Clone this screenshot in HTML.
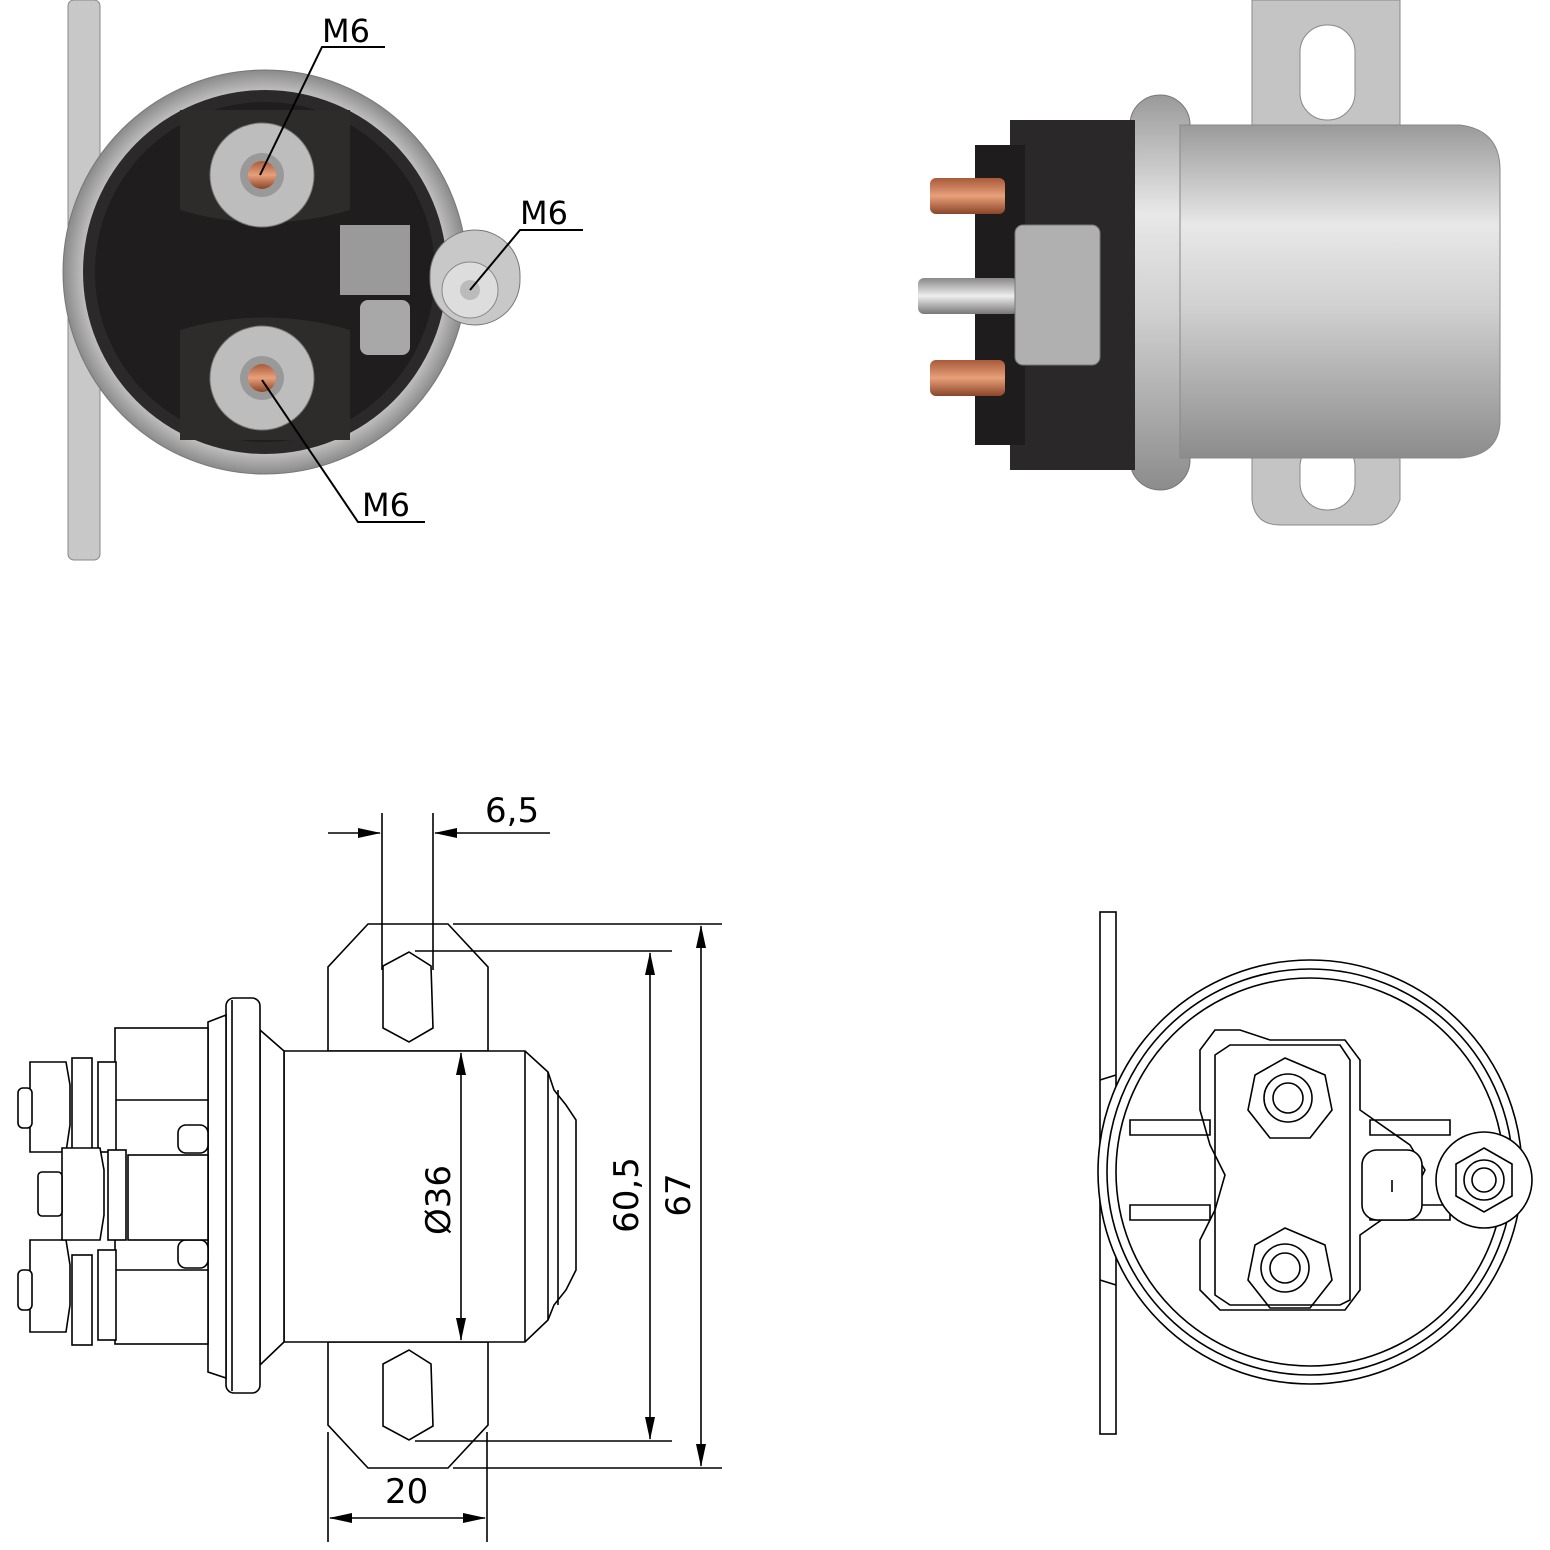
<!DOCTYPE html>
<html><head><meta charset="utf-8"><style>
html,body{margin:0;padding:0;background:#fff;}
svg{display:block;}
text{font-family:"DejaVu Sans","Liberation Sans",sans-serif;}
</style></head><body>
<svg width="1550" height="1550" viewBox="0 0 1550 1550" xmlns="http://www.w3.org/2000/svg">
<defs>
<radialGradient id="ring" cx="50%" cy="50%" r="50%">
<stop offset="85%" stop-color="#d8d8d8"/><stop offset="100%" stop-color="#8a8a8a"/></radialGradient>
<linearGradient id="can" x1="0" y1="0" x2="0" y2="1">
<stop offset="0" stop-color="#9a9a9a"/><stop offset="0.3" stop-color="#e8e8e8"/><stop offset="0.55" stop-color="#d0d0d0"/><stop offset="1" stop-color="#8c8c8c"/></linearGradient>
<linearGradient id="cu" x1="0" y1="0" x2="0" y2="1">
<stop offset="0" stop-color="#a85a3a"/><stop offset="0.5" stop-color="#e8a07a"/><stop offset="1" stop-color="#8a4428"/></linearGradient>
<linearGradient id="ag" x1="0" y1="0" x2="0" y2="1">
<stop offset="0" stop-color="#888"/><stop offset="0.5" stop-color="#eee"/><stop offset="1" stop-color="#777"/></linearGradient>
</defs>

<!-- TOP LEFT photo -->
<rect x="68" y="0" width="32" height="560" rx="6" fill="#c8c8c8" stroke="#888"/>
<circle cx="265" cy="272" r="202" fill="url(#ring)" stroke="#777"/>
<circle cx="265" cy="272" r="182" fill="#2b2929"/>
<circle cx="265" cy="272" r="170" fill="#1f1d1d"/>
<path d="M180 110 L350 110 L350 210 Q265 235 180 210 Z" fill="#2e2b2b"/>
<path d="M180 330 Q265 305 350 330 L350 440 L180 440 Z" fill="#2e2b2b"/>
<circle cx="262" cy="175" r="52" fill="#bdbdbd" stroke="#777"/>
<circle cx="262" cy="175" r="22" fill="#999"/>
<circle cx="262" cy="175" r="14" fill="url(#cu)"/>
<circle cx="262" cy="378" r="52" fill="#bdbdbd" stroke="#777"/>
<circle cx="262" cy="378" r="22" fill="#999"/>
<circle cx="262" cy="378" r="14" fill="url(#cu)"/>
<rect x="340" y="225" width="70" height="70" fill="#9a9a9a"/>
<rect x="360" y="300" width="50" height="55" rx="8" fill="#a8a8a8"/>
<rect x="430" y="230" width="90" height="95" rx="45" fill="#c8c8c8" stroke="#777"/>
<circle cx="470" cy="290" r="28" fill="#ddd" stroke="#888"/>
<circle cx="470" cy="290" r="10" fill="#bbb"/>
<g stroke="#000" stroke-width="2" fill="none">
<polyline points="260,175 322,47 385,47"/>
<polyline points="470,290 520,230 583,230"/>
<polyline points="262,380 358,522 425,522"/>
</g>
<g font-size="32" fill="#000">
<text x="322" y="42">M6</text>
<text x="520" y="224">M6</text>
<text x="362" y="516">M6</text>
</g>

<!-- TOP RIGHT photo -->
<path d="M1252 0 L1400 0 L1400 140 L1252 140 Z" fill="#c4c4c4" stroke="#888"/>
<rect x="1300" y="25" width="55" height="95" rx="27" fill="#fff" stroke="#888"/>
<path d="M1252 430 L1400 430 L1400 500 Q1390 525 1370 525 L1280 525 Q1255 525 1252 500 Z" fill="#c4c4c4" stroke="#888"/>
<rect x="1300" y="440" width="55" height="70" rx="27" fill="#fff" stroke="#888"/>
<rect x="1130" y="95" width="60" height="395" rx="30" fill="url(#can)" stroke="#777"/>
<path d="M1180 125 L1460 125 Q1500 130 1500 170 L1500 420 Q1500 455 1460 458 L1180 458 Z" fill="url(#can)" stroke="#888"/>
<rect x="1010" y="120" width="125" height="350" fill="#2a2828"/>
<rect x="975" y="145" width="50" height="300" fill="#1e1c1c"/>
<rect x="930" y="178" width="75" height="36" rx="6" fill="url(#cu)"/>
<rect x="930" y="360" width="75" height="36" rx="6" fill="url(#cu)"/>
<rect x="918" y="278" width="100" height="36" rx="6" fill="url(#ag)"/>
<rect x="1015" y="225" width="85" height="140" rx="8" fill="#b0b0b0" stroke="#777"/>

<!-- BOTTOM LEFT drawing -->
<g stroke="#000" stroke-width="1.6" fill="#fff">
<path d="M368 924 L448 924 L488 967 L488 1051 L328 1051 L328 967 Z"/>
<path d="M328 1342 L488 1342 L488 1425 L448 1468 L368 1468 L328 1425 Z"/>
<path d="M409 952 L431 966 L433 1028 L409 1042 L383 1028 L383 966 Z"/>
<path d="M409 1350 L431 1364 L433 1426 L409 1440 L383 1426 L383 1364 Z"/>
<path d="M284 1051 L525 1051 L548 1072 L554 1090 L566 1105 L576 1120 L576 1270 L566 1290 L554 1305 L548 1320 L525 1342 L284 1342 Z"/>
<line x1="525" y1="1051" x2="525" y2="1342"/>
<line x1="548" y1="1072" x2="548" y2="1320"/>
<line x1="558" y1="1090" x2="558" y2="1305"/>
<path d="M260 1030 L284 1051 L284 1342 L260 1365 Z"/>
<rect x="226" y="998" width="34" height="395" rx="8"/>
<line x1="232" y1="1000" x2="232" y2="1391"/>
<path d="M208 1022 L226 1015 L226 1378 L208 1372 Z"/>
<rect x="115" y="1028" width="93" height="316"/>
<line x1="115" y1="1100" x2="208" y2="1100"/>
<line x1="115" y1="1270" x2="208" y2="1270"/>
<rect x="178" y="1125" width="30" height="28" rx="8"/>
<rect x="178" y="1240" width="30" height="28" rx="8"/>
<rect x="128" y="1155" width="80" height="85"/>
<rect x="98" y="1062" width="18" height="90"/>
<rect x="98" y="1250" width="18" height="90"/>
<rect x="72" y="1058" width="20" height="92"/>
<rect x="72" y="1255" width="20" height="90"/>
<path d="M30 1062 L66 1062 L70 1085 L70 1125 L66 1152 L30 1152 Z"/>
<path d="M30 1240 L66 1240 L70 1265 L70 1305 L66 1332 L30 1332 Z"/>
<rect x="18" y="1088" width="14" height="40" rx="5"/>
<rect x="18" y="1270" width="14" height="40" rx="5"/>
<path d="M62 1148 L100 1148 L104 1170 L104 1215 L100 1240 L62 1240 Z"/>
<rect x="38" y="1172" width="24" height="44" rx="4"/>
<rect x="108" y="1150" width="18" height="90"/>
</g>
<g stroke="#000" stroke-width="1.6" fill="none">
<line x1="382" y1="813" x2="382" y2="970"/>
<line x1="433" y1="813" x2="433" y2="970"/>
<line x1="328" y1="833" x2="380" y2="833"/>
<line x1="550" y1="833" x2="435" y2="833"/>
<line x1="453" y1="924" x2="722" y2="924"/>
<line x1="415" y1="951" x2="672" y2="951"/>
<line x1="415" y1="1441" x2="672" y2="1441"/>
<line x1="453" y1="1468" x2="722" y2="1468"/>
<line x1="650" y1="953" x2="650" y2="1439"/>
<line x1="701" y1="926" x2="701" y2="1466"/>
<line x1="461" y1="1053" x2="461" y2="1340"/>
<line x1="328" y1="1432" x2="328" y2="1542"/>
<line x1="487" y1="1432" x2="487" y2="1542"/>
<line x1="330" y1="1518" x2="485" y2="1518"/>
</g>
<g fill="#000">
<polygon points="381,833 358,828 358,838"/>
<polygon points="434,833 457,828 457,838"/>
<polygon points="650,952 645,975 655,975"/>
<polygon points="650,1440 645,1417 655,1417"/>
<polygon points="701,925 696,948 706,948"/>
<polygon points="701,1467 696,1444 706,1444"/>
<polygon points="461,1052 456,1075 466,1075"/>
<polygon points="461,1341 456,1318 466,1318"/>
<polygon points="329,1518 352,1513 352,1523"/>
<polygon points="486,1518 463,1513 463,1523"/>
</g>
<g font-size="34" fill="#000">
<text x="485" y="822">6,5</text>
<text x="385" y="1503">20</text>
<text transform="translate(450 1200) rotate(-90)" text-anchor="middle">Ø36</text>
<text transform="translate(638 1195) rotate(-90)" text-anchor="middle">60,5</text>
<text transform="translate(690 1195) rotate(-90)" text-anchor="middle">67</text>
</g>

<!-- BOTTOM RIGHT drawing -->
<g stroke="#000" stroke-width="1.6" fill="none">
<rect x="1100" y="912" width="16" height="522" fill="#fff"/>
<path d="M1100 1080 L1116 1075 M1100 1280 L1116 1285"/>
<circle cx="1310" cy="1172" r="212" fill="#fff"/>
<circle cx="1310" cy="1172" r="203"/>
<circle cx="1310" cy="1172" r="194"/>
<path d="M1215 1030 L1240 1030 L1270 1040 L1345 1040 L1360 1060 L1360 1110 L1410 1145 L1425 1170 L1410 1200 L1360 1235 L1360 1290 L1345 1310 L1220 1310 L1200 1290 L1200 1240 L1215 1210 L1225 1175 L1210 1145 L1200 1110 L1200 1050 Z"/>
<path d="M1230 1045 L1340 1045 L1350 1060 L1350 1300 L1340 1305 L1230 1305 L1215 1295 L1215 1055 Z"/>
<path d="M1130 1120 L1210 1120 L1210 1135 L1130 1135 Z M1130 1205 L1210 1205 L1210 1220 L1130 1220 Z"/>
<path d="M1370 1120 L1450 1120 L1450 1135 L1370 1135 Z M1370 1205 L1450 1205 L1450 1220 L1370 1220 Z"/>
<path d="M1285 1058 L1325 1075 L1332 1110 L1310 1138 L1270 1138 L1248 1110 L1255 1075 Z"/>
<circle cx="1288" cy="1098" r="24"/><circle cx="1288" cy="1098" r="15"/>
<path d="M1285 1228 L1325 1245 L1332 1280 L1310 1308 L1270 1308 L1248 1280 L1255 1245 Z"/>
<circle cx="1285" cy="1268" r="24"/><circle cx="1285" cy="1268" r="15"/>
<rect x="1362" y="1150" width="60" height="70" rx="15" fill="#fff"/>
<line x1="1392" y1="1180" x2="1392" y2="1192"/>
<circle cx="1484" cy="1180" r="48" fill="#fff"/>
<path d="M1484 1148 L1512 1164 L1512 1196 L1484 1212 L1456 1196 L1456 1164 Z"/>
<circle cx="1484" cy="1180" r="20"/><circle cx="1484" cy="1180" r="12"/>
</g>
</svg>
</body></html>
